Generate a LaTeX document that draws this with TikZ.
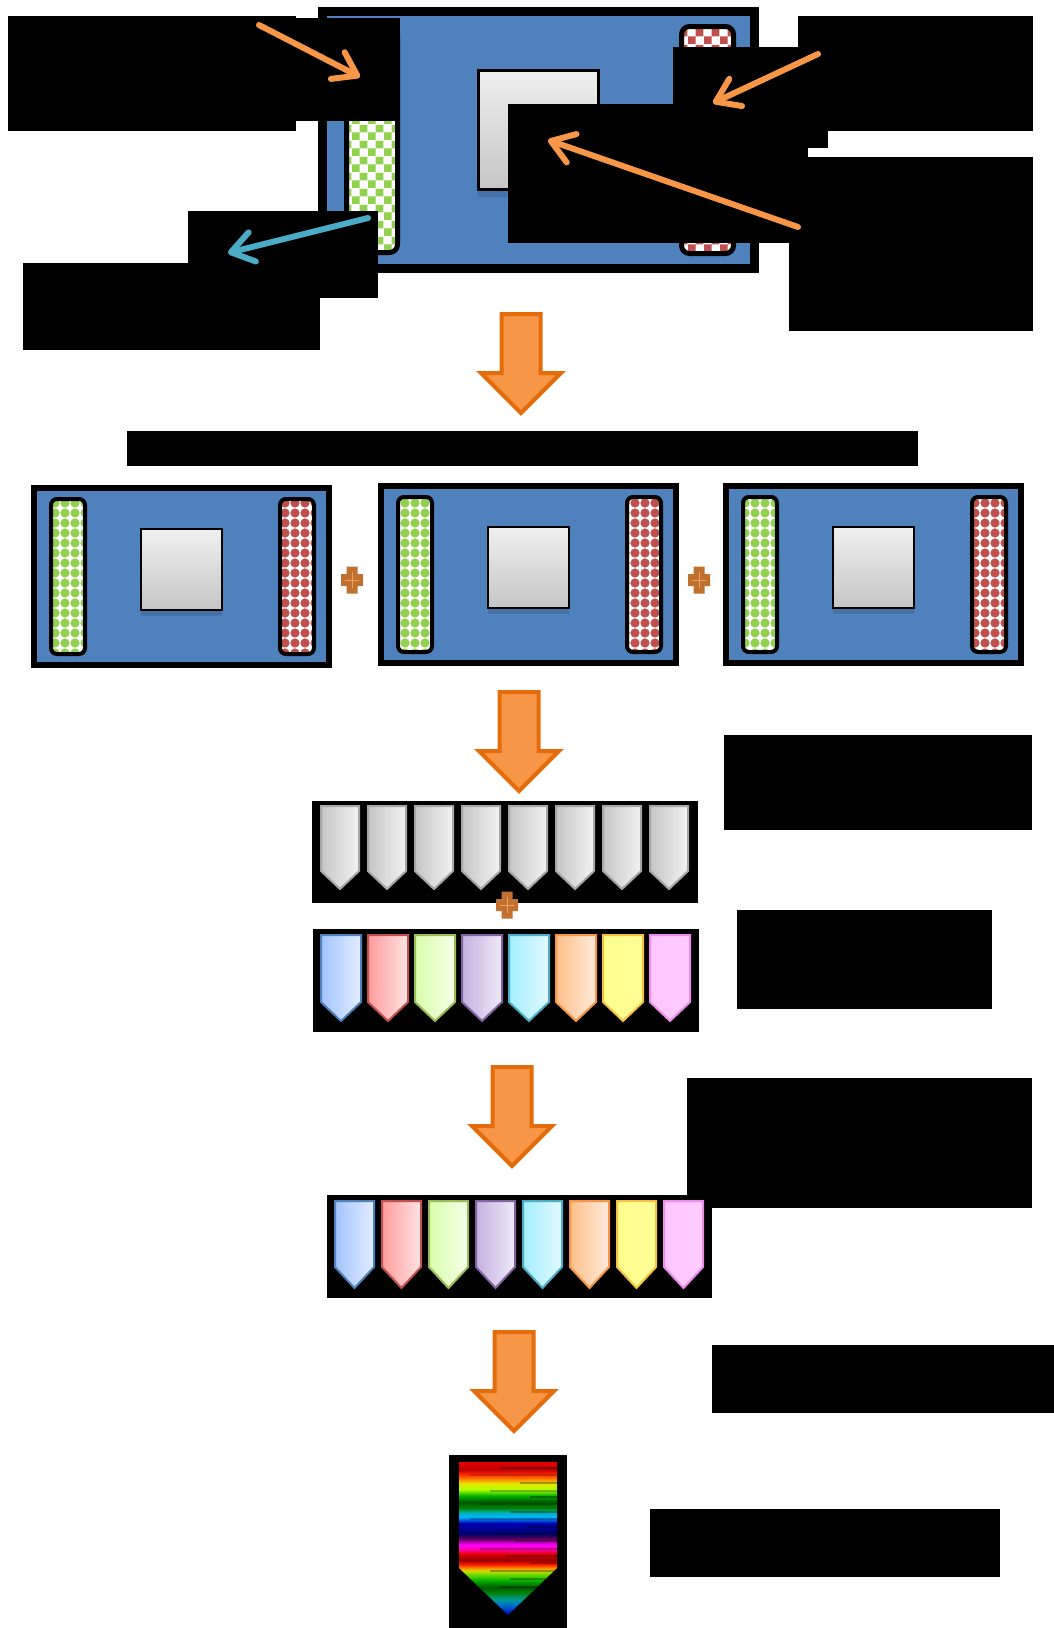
\documentclass[tikz,border=0pt]{standalone}
\usetikzlibrary{arrows.meta,patterns.meta}

\definecolor{panelblue}{HTML}{4F81BD}
\definecolor{flowfill}{HTML}{F79646}
\definecolor{flowline}{HTML}{E46C0A}
\definecolor{plusfill}{HTML}{C0702F}
\definecolor{plusline}{HTML}{F2A05A}
\definecolor{ptrorange}{HTML}{F79646}
\definecolor{ptrteal}{HTML}{4BACC6}
\definecolor{stripgreen}{HTML}{92D050}
\definecolor{stripred}{HTML}{C0504D}
% tab colours: left, right, border
\definecolor{blueL}{HTML}{A3C4FF}\definecolor{blueR}{HTML}{E3EDFF}\definecolor{blueB}{HTML}{4F81BD}
\definecolor{redL}{HTML}{FF9C9C}\definecolor{redR}{HTML}{FFE3E3}\definecolor{redB}{HTML}{C0504D}
\definecolor{greenL}{HTML}{D8FFAA}\definecolor{greenR}{HTML}{F6FFEA}\definecolor{greenB}{HTML}{9BBB59}
\definecolor{violL}{HTML}{C6B1E0}\definecolor{violR}{HTML}{EFE9F8}\definecolor{violB}{HTML}{8064A2}
\definecolor{aquaL}{HTML}{A3EEFF}\definecolor{aquaR}{HTML}{E2F9FF}\definecolor{aquaB}{HTML}{4BACC6}
\definecolor{peachL}{HTML}{FFBF88}\definecolor{peachR}{HTML}{FFEBDC}\definecolor{peachB}{HTML}{F79646}
\definecolor{lemonL}{HTML}{FFFF8C}\definecolor{lemonR}{HTML}{FFFF96}\definecolor{lemonB}{HTML}{F5C242}
\definecolor{pinkL}{HTML}{FFC6FF}\definecolor{pinkR}{HTML}{FFCCFF}\definecolor{pinkB}{HTML}{EE8CEE}

\tikzdeclarepattern{
  name=bubbles, type=uncolored,
  bottom left={(-.1pt,-.1pt)}, top right={(5.1pt,5.1pt)},
  tile size={(5pt,5pt)},
  code={\tikzset{x=1pt,y=1pt}\fill (2.5,2.5) circle [radius=2.3];}
}
\tikzdeclarepattern{
  name=checks, type=uncolored,
  bottom left={(0pt,0pt)}, top right={(8pt,8pt)},
  tile size={(8pt,8pt)},
  code={\tikzset{x=1pt,y=1pt}\fill (0,0) rectangle (4,4) (4,4) rectangle (8,8);}
}

\pgfdeclareverticalshading{rainbowstreak}{100bp}{
  color(0bp)=(blue!70!black); color(25bp)=(blue!70!black);
  color(28bp)=(cyan!50!blue!80!black); color(30bp)=(teal!80!cyan);
  color(32.5bp)=(green!50!black); color(34bp)=(green!35!black);
  color(36bp)=(green!65!black); color(38bp)=(green!60!yellow!85!black);
  color(39.5bp)=(yellow!85!black); color(40.5bp)=(orange);
  color(41.5bp)=(red!80!orange); color(43bp)=(red!60!black);
  color(45bp)=(red!90!black); color(46.5bp)=(magenta!70!red);
  color(48bp)=(magenta); color(50bp)=(violet!70!black);
  color(51.5bp)=(blue!40!black); color(53bp)=(blue!55!black);
  color(55bp)=(blue!70!black); color(57bp)=(cyan!70!blue);
  color(58.5bp)=(teal!60!cyan); color(60bp)=(green!50!black);
  color(62bp)=(green!35!black); color(64bp)=(green!70!black);
  color(66bp)=(yellow!70!green); color(68bp)=(yellow!90!black);
  color(69.5bp)=(orange); color(71bp)=(red!70!orange);
  color(72.5bp)=(red!75!black); color(75bp)=(red!90!black);
  color(100bp)=(red!90!black)}

\begin{document}
\begin{tikzpicture}[x=0.5pt,y=-0.5pt,
  redact/.style 2 args={fill=black,inner sep=0pt,outer sep=0pt,
    minimum width=#1*0.5pt,minimum height=#2*0.5pt},
  board/.style={fill=panelblue,draw=black,line width=3pt},
  strip/.style={draw=black,line width=2pt,rounded corners=3pt,preaction={fill=white}},
  chip/.style={draw=black,line width=1pt,top color=gray!12,bottom color=gray!45},
  chipshadow/.style={fill=black,opacity=.12},
  flow/.style={fill=flowfill,draw=flowline,line width=2pt},
  pointer/.style={line width=3pt,line cap=round,
    -{Straight Barb[round,length=11pt,width=15pt]}},
  tab/.style={line width=1pt},
  blockdown/.pic={\path[flow] (-19.5,0) -- (19.5,0) -- (19.5,59) -- (40,59)
    -- (0,99) -- (-40,59) -- (-19.5,59) -- cycle;},
  plussign/.pic={\path[fill=plusfill] (-5.5,-13.5) -- (5.5,-13.5) -- (5.5,-6)
    -- (11,-6) -- (11,6) -- (5.5,6) -- (5.5,13.5) -- (-5.5,13.5) -- (-5.5,6)
    -- (-11,6) -- (-11,-6) -- (-5.5,-6) -- cycle;
    \draw[plusline,line width=0.5pt] (0,-8) -- (0,8) (-7,0) -- (7,0);}]

  \fill[white] (0,0) rectangle (1054,1628);
  \useasboundingbox (0,0) rectangle (1054,1628);

  % top board
  \draw[board,line width=4.5pt] (322.5,11.5) rectangle (754.5,268.5);
  \draw[strip,line width=2.5pt,rounded corners=4pt,pattern=checks,pattern color=stripgreen]
    (346.5,26.5) rectangle (397.5,252.5);
  \draw[strip,line width=2.5pt,rounded corners=4pt,pattern=checks,pattern color=stripred]
    (681.5,26.5) rectangle (733.5,253.5);
  \fill[chipshadow] (478,74) rectangle (599,197);
  \draw[chip,line width=1.5pt] (478.5,70.5) rectangle (598.5,189.5);

  % labels round the top board
  \node[redact={288}{115}] (lblA) at (152,73.5) {};
  \node[redact={104}{103}] (lblAb) at (348,69.5) {};
  \node[redact={235}{115}] (lblB) at (915.5,73.5) {};
  \node[redact={155}{101}] (lblBb) at (750.5,97.5) {};
  \node[redact={300}{139}] (lblC) at (658,173.5) {};
  \node[redact={244}{174}] (lblD) at (911,244) {};
  \node[redact={190}{87}] (lblE) at (283,254.5) {};
  \node[redact={297}{87}] (lblEb) at (171.5,306.5) {};

  \coordinate (ptrA) at (259,25);   \coordinate (tipA) at (360,77);
  \coordinate (ptrB) at (818,54);   \coordinate (tipB) at (713,103);
  \coordinate (ptrC) at (798,227);  \coordinate (tipC) at (548,140);
  \coordinate (ptrE) at (368,218);  \coordinate (tipE) at (228,253);

  \path[pointer]
    (ptrA) edge[ptrorange] (tipA)
    (ptrB) edge[ptrorange] (tipB)
    (ptrC) edge[ptrorange] (tipC)
    (ptrE) edge[ptrteal] (tipE);

  \pic at (521,314) {blockdown};

  % three boards
  \node[redact={791}{35}] (title) at (522.5,448.5) {};
  \foreach \px/\py in {31/485,378/483,723/483}{
    \draw[board] ({\px+3},{\py+3}) rectangle ({\px+298},{\py+180});
    \draw[strip,pattern=bubbles,pattern color=stripgreen]
      ({\px+20},{\py+14}) rectangle ({\px+54},{\py+169});
    \draw[strip,pattern=bubbles,pattern color=stripred]
      ({\px+249},{\py+14}) rectangle ({\px+283},{\py+169});
    \fill[chipshadow] ({\px+110},{\py+47}) rectangle ({\px+191},{\py+131});
    \draw[chip] ({\px+110},{\py+44}) rectangle ({\px+191},{\py+125});
  }
  \pic at (352,580) {plussign};
  \pic at (699,580) {plussign};

  \pic at (519,692) {blockdown};
  \node[redact={308}{95}] (lblF) at (878,782.5) {};
  \node[redact={255}{99}] (lblG) at (864.5,959.5) {};

  % gray row + coloured rows
  \node[redact={386}{102}] (grayrow) at (505,852) {};
  \foreach \i in {0,...,7}
    \path[tab,draw=gray!70,left color=gray!45,right color=gray!10]
      ({321+47*\i},806) -- ++(38,0) -- ++(0,65) -- ++(-19,18) -- ++(-19,-18) -- cycle;
  \pic at (507,905) {plussign};
  \node[redact={345}{130}] (lblH) at (859.5,1143) {};
  \node[redact={386}{103}] (colorrow) at (506,980.5) {};
  \node[redact={385}{103}] (mixrow) at (519.5,1246.5) {};
  \foreach \i/\c in {0/blue,1/red,2/green,3/viol,4/aqua,5/peach,6/lemon,7/pink}{
    \path[tab,draw=\c B,left color=\c L,right color=\c R]
      ({321+47*\i},935) -- ++(40,0) -- ++(0,67) -- ++(-20,19) -- ++(-20,-19) -- cycle;
    \path[tab,draw=\c B,left color=\c L,right color=\c R]
      ({335+47*\i},1201) -- ++(39,0) -- ++(0,66) -- ++(-19.5,21) -- ++(-19.5,-21) -- cycle;
  }

  \pic at (512,1067) {blockdown};

  \pic at (514,1332) {blockdown};
  \node[redact={342}{68}] (lblI) at (883,1379) {};

  % final tab
  \node[redact={118}{173}] (final) at (508,1541.5) {};
  \begin{scope}
    \clip (459,1462) -- (557,1462) -- (557,1568) -- (508,1615) -- (459,1568) -- cycle;
    \shade[shading=rainbowstreak] (459,1462) rectangle (557,1615);
    \foreach \yy/\xa/\op in {1468/500/.35,1475/470/.2,1483/520/.3,1491/490/.25,1497/530/.35,
        1504/480/.2,1512/510/.3,1519/470/.25,1527/525/.35,1534/495/.2,1541/515/.3,
        1549/480/.25,1556/505/.3,1563/530/.2,1571/490/.3,1579/510/.25,1587/500/.3}
      \draw[black,opacity=\op,line width=1pt] (\xa,\yy) -- (557,\yy);
  \end{scope}
  \node[redact={350}{68}] (lblJ) at (825,1543) {};
\end{tikzpicture}
\end{document}
